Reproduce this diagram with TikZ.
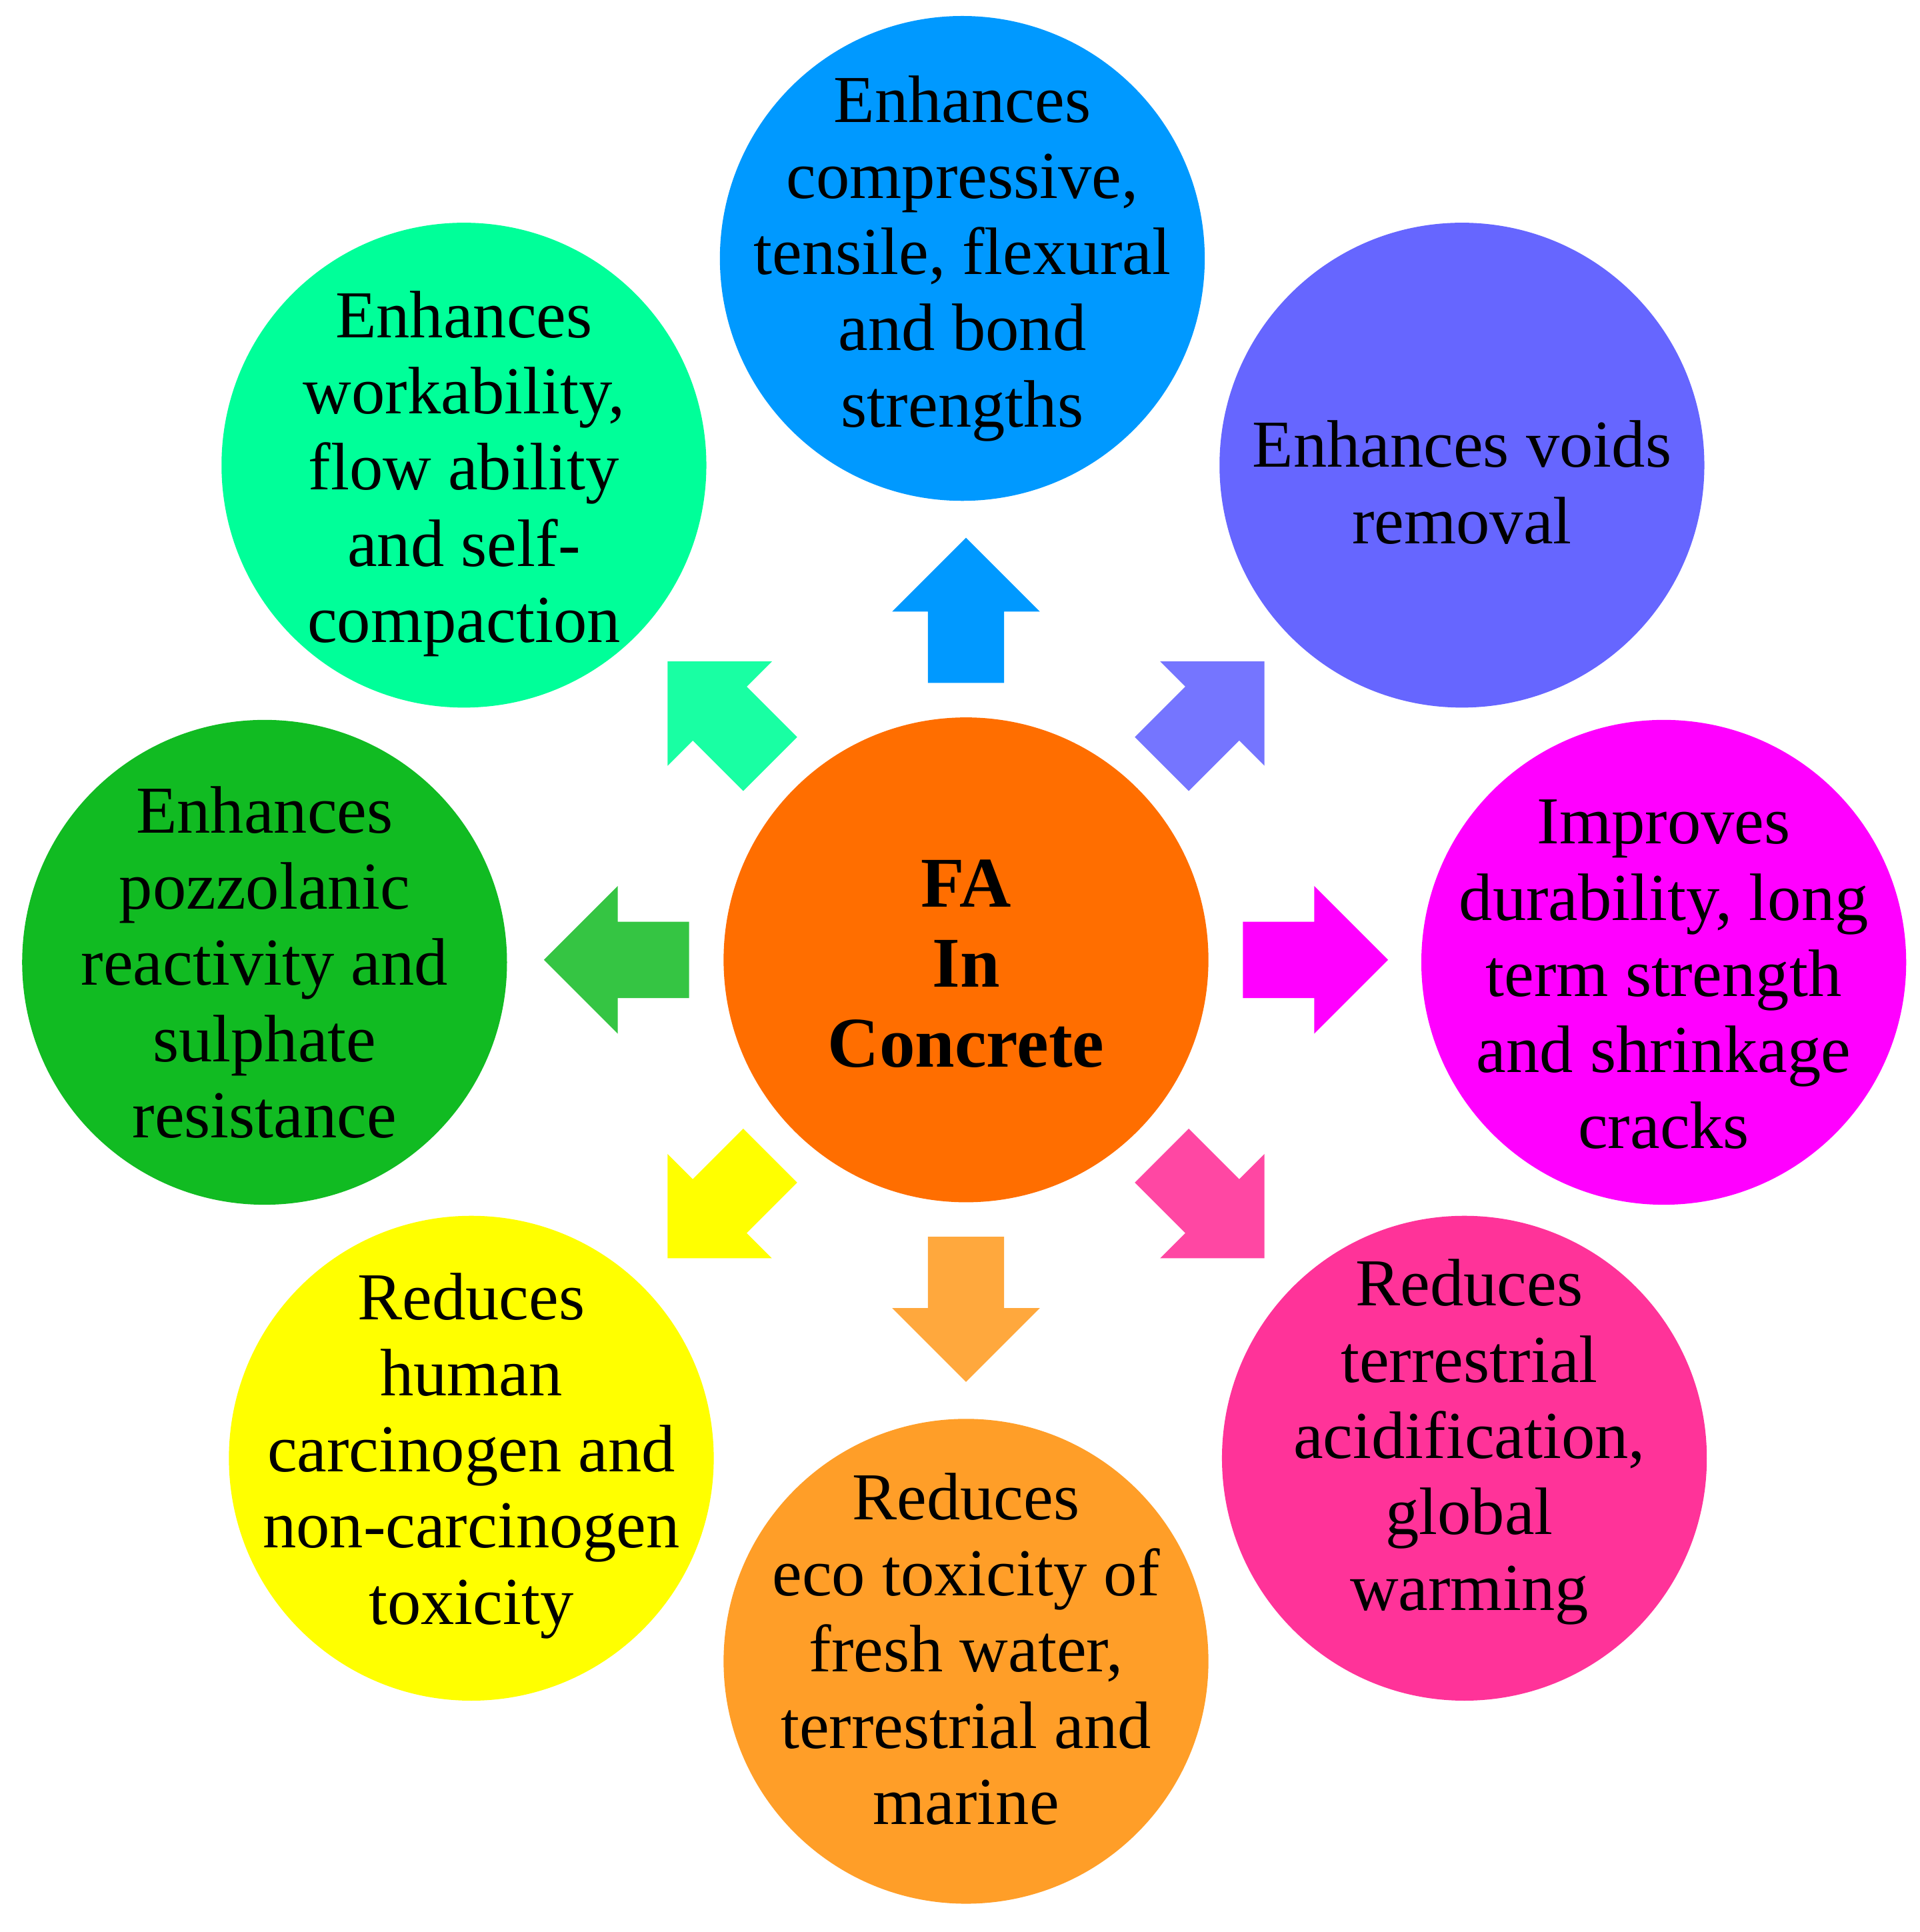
\documentclass[tikz,border=0pt]{standalone}
\usepackage{fontspec}
\setmainfont{Liberation Serif}
\begin{document}
\begin{tikzpicture}[x=0.01cm,y=-0.01cm,
  txt/.style={align=center,inner sep=0pt,font=\fontsize{15.5}{17.6}\selectfont}]
\definecolor{cc}{HTML}{FF6E00}
\definecolor{c1}{HTML}{0099FF}
\definecolor{c2}{HTML}{6666FF}
\definecolor{c3}{HTML}{FF00FF}
\definecolor{c4}{HTML}{FF3399}
\definecolor{c5}{HTML}{FF9E28}
\definecolor{c6}{HTML}{FFFF00}
\definecolor{c7}{HTML}{11BB22}
\definecolor{c8}{HTML}{00FF99}
\useasboundingbox (0,0) rectangle (1560,1570);
\foreach \p/\col in {{(785,780)}/cc,{(782,210)}/c1,{(1188,378)}/c2,{(1352,782)}/c3,{(1190,1185)}/c4,{(785,1350)}/c5,{(383,1185)}/c6,{(215,782)}/c7,{(377,378)}/c8}
  \fill[\col] \p circle (197);
\node[txt,font=\fontsize{16.5}{18.5}\selectfont\bfseries] (c) at (785,783) {FA\\In\\Concrete};
\node[txt] (n1) at (782,210) {Enhances\\compressive,\\tensile, flexural\\and bond\\strengths};
\node[txt] (n2) at (1188,392) {Enhances voids\\removal};
\node[txt] (n3) at (1352,792) {Improves\\durability, long\\term strength\\and shrinkage\\cracks};
\node[txt] (n4) at (1194,1172) {Reduces\\terrestrial\\acidification,\\global\\warming};
\node[txt] (n5) at (785,1340) {Reduces\\eco toxicity of\\fresh water,\\terrestrial and\\marine};
\node[txt] (n6) at (383,1183) {Reduces\\human\\carcinogen and\\non-carcinogen\\toxicity};
\node[txt] (n7) at (215,782) {Enhances\\pozzolanic\\reactivity and\\sulphate\\resistance};
\node[txt] (n8) at (377,385) {Enhances\\workability,\\flow ability\\and self-\\compaction};
\foreach \ang/\col in {90/c1,45/c2!90,0/c3,-45/c4!90,-90/c5!90,-135/c6,180/c7!85,135/c8!90}{
  \fill[\col,shift={(785,780)},rotate=\ang]
    (225,-31) -- (283,-31) -- (283,-60) -- (343,0) -- (283,60) -- (283,31) -- (225,31) -- cycle;
}
\end{tikzpicture}
\end{document}
